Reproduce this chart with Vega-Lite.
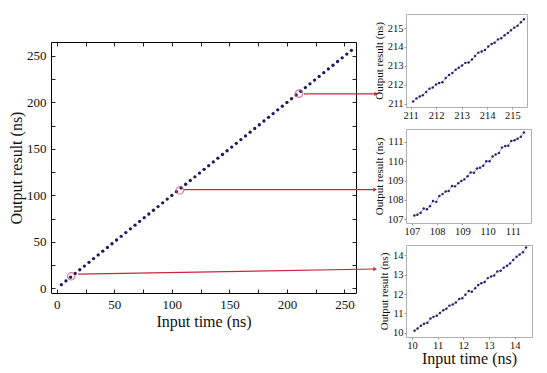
{
  "$schema": "https://vega.github.io/schema/vega-lite/v6.json",
  "background": "white",
  "padding": {"left": 8, "top": 13, "right": 5, "bottom": 5},
  "config": {
    "font": "Liberation Serif",
    "view": {"stroke": "black", "strokeWidth": 1},
    "axis": {"labelFont": "Liberation Serif", "titleFont": "Liberation Serif", "titleFontWeight": "normal", "labelColor": "#111", "titleColor": "#111", "grid": false}
  },
  "datasets": {
    "main": [
      {"x":4,"y":4},{"x":8,"y":8},{"x":12,"y":12},{"x":16,"y":16},{"x":20,"y":20},{"x":24,"y":24},{"x":28,"y":28},{"x":32,"y":32},
      {"x":36,"y":36},{"x":40,"y":40},{"x":44,"y":44},{"x":48,"y":48},{"x":52,"y":52},{"x":56,"y":56},{"x":60,"y":60},{"x":64,"y":64},
      {"x":68,"y":68},{"x":72,"y":72},{"x":76,"y":76},{"x":80,"y":80},{"x":84,"y":84},{"x":88,"y":88},{"x":92,"y":92},{"x":96,"y":96},
      {"x":100,"y":100},{"x":104,"y":104},{"x":108,"y":108},{"x":112,"y":112},{"x":116,"y":116},{"x":120,"y":120},{"x":124,"y":124},{"x":128,"y":128},
      {"x":132,"y":132},{"x":136,"y":136},{"x":140,"y":140},{"x":144,"y":144},{"x":148,"y":148},{"x":152,"y":152},{"x":156,"y":156},{"x":160,"y":160},
      {"x":164,"y":164},{"x":168,"y":168},{"x":172,"y":172},{"x":176,"y":176},{"x":180,"y":180},{"x":184,"y":184},{"x":188,"y":188},{"x":192,"y":192},
      {"x":196,"y":196},{"x":200,"y":200},{"x":204,"y":204},{"x":208,"y":208},{"x":212,"y":212},{"x":216,"y":216},{"x":220,"y":220},{"x":224,"y":224},
      {"x":228,"y":228},{"x":232,"y":232},{"x":236,"y":236},{"x":240,"y":240},{"x":244,"y":244},{"x":248,"y":248},{"x":252,"y":252},{"x":256,"y":256}
    ],
    "marks": [
      {"x":12.5,"y":13},{"x":107,"y":105.5},{"x":210.5,"y":209.5}
    ],
    "arrows": [
      {"x":214.8,"y":209.1,"x2":277.5,"y2":209.1},
      {"x":110.6,"y":106.3,"x2":276.6,"y2":106.3},
      {"x":18.5,"y":15.4,"x2":276.6,"y2":20.8}
    ],
    "z1": [
      {"x":211.10,"y":211.12},{"x":211.23,"y":211.28},{"x":211.36,"y":211.38},{"x":211.48,"y":211.45},{"x":211.61,"y":211.62},{"x":211.74,"y":211.80},{"x":211.87,"y":211.86},
      {"x":212.00,"y":212.02},{"x":212.12,"y":212.10},{"x":212.25,"y":212.14},{"x":212.38,"y":212.36},{"x":212.51,"y":212.52},{"x":212.64,"y":212.62},{"x":212.77,"y":212.80},
      {"x":212.89,"y":212.90},{"x":213.02,"y":213.02},{"x":213.15,"y":213.16},{"x":213.28,"y":213.18},{"x":213.41,"y":213.34},{"x":213.53,"y":213.52},{"x":213.66,"y":213.70},
      {"x":213.79,"y":213.76},{"x":213.92,"y":213.84},{"x":214.05,"y":214.02},{"x":214.18,"y":214.16},{"x":214.30,"y":214.22},{"x":214.43,"y":214.40},{"x":214.56,"y":214.46},
      {"x":214.69,"y":214.62},{"x":214.82,"y":214.74},{"x":214.94,"y":214.88},{"x":215.07,"y":215.02},{"x":215.20,"y":215.12},{"x":215.33,"y":215.30},{"x":215.45,"y":215.46}
    ],
    "z2": [
      {"x":107.10,"y":107.20},{"x":107.22,"y":107.24},{"x":107.35,"y":107.34},{"x":107.47,"y":107.56},{"x":107.60,"y":107.52},{"x":107.72,"y":107.68},
      {"x":107.84,"y":107.94},{"x":107.97,"y":107.90},{"x":108.09,"y":108.20},{"x":108.22,"y":108.30},{"x":108.34,"y":108.44},{"x":108.46,"y":108.46},
      {"x":108.59,"y":108.72},{"x":108.71,"y":108.70},{"x":108.84,"y":108.86},{"x":108.96,"y":108.98},{"x":109.08,"y":109.06},{"x":109.21,"y":109.22},
      {"x":109.33,"y":109.42},{"x":109.46,"y":109.40},{"x":109.58,"y":109.62},{"x":109.70,"y":109.66},{"x":109.83,"y":109.76},{"x":109.95,"y":110.00},
      {"x":110.08,"y":110.00},{"x":110.20,"y":110.24},{"x":110.32,"y":110.34},{"x":110.45,"y":110.42},{"x":110.57,"y":110.70},{"x":110.70,"y":110.78},
      {"x":110.82,"y":110.80},{"x":110.94,"y":111.04},{"x":111.07,"y":111.08},{"x":111.19,"y":111.16},{"x":111.32,"y":111.26},{"x":111.44,"y":111.48}
    ],
    "z3": [
      {"x":10.10,"y":10.10},{"x":10.22,"y":10.22},{"x":10.35,"y":10.36},{"x":10.47,"y":10.46},{"x":10.60,"y":10.52},{"x":10.72,"y":10.74},
      {"x":10.84,"y":10.82},{"x":10.97,"y":10.88},{"x":11.09,"y":11.02},{"x":11.22,"y":11.16},{"x":11.34,"y":11.24},{"x":11.46,"y":11.40},
      {"x":11.59,"y":11.46},{"x":11.71,"y":11.56},{"x":11.84,"y":11.74},{"x":11.96,"y":11.78},{"x":12.08,"y":11.96},{"x":12.21,"y":12.16},
      {"x":12.33,"y":12.12},{"x":12.46,"y":12.30},{"x":12.58,"y":12.46},{"x":12.70,"y":12.56},{"x":12.83,"y":12.62},{"x":12.95,"y":12.82},
      {"x":13.08,"y":12.90},{"x":13.20,"y":12.96},{"x":13.32,"y":13.16},{"x":13.45,"y":13.20},{"x":13.57,"y":13.36},{"x":13.70,"y":13.46},
      {"x":13.82,"y":13.58},{"x":13.94,"y":13.76},{"x":14.07,"y":13.92},{"x":14.19,"y":14.04},{"x":14.32,"y":14.16},{"x":14.44,"y":14.40}
    ]
  },
  "bounds": "full",
  "spacing": -7,
  "hconcat": [
    {
      "bounds": "flush",
      "spacing": 18,
      "vconcat": [
        {
          "width": 305, "height": 10,
          "view": {"stroke": null},
          "data": {"values": []},
          "mark": {"type": "point"},
          "encoding": {}
        },
        {
          "width": 305, "height": 251,
          "layer": [
            {
              "data": {"name": "main"},
              "mark": {"type": "point", "filled": true, "size": 11, "color": "#1c1a5a", "opacity": 1},
              "encoding": {
                "x": {"field": "x", "type": "quantitative", "scale": {"domain": [-5, 260], "nice": false, "zero": false},
                  "axis": {"orient": "bottom", "title": "Input time (ns)", "values": [0,25,50,75,100,125,150,175,200,225,250],
                    "labelExpr": "datum.value % 50 === 0 ? datum.label : ''", "tickSize": -4, "tickColor": "#222", "labelPadding": 9,
                    "labelFontSize": 13, "titleFontSize": 16, "titlePadding": 2, "domain": false}},
                "y": {"field": "y", "type": "quantitative", "scale": {"domain": [-5, 265], "nice": false, "zero": false},
                  "axis": {"orient": "left", "title": "Output result (ns)", "values": [0,25,50,75,100,125,150,175,200,225,250],
                    "labelExpr": "datum.value % 50 === 0 ? datum.label : ''", "tickSize": -4, "tickColor": "#222", "labelPadding": 9,
                    "labelFontSize": 13, "titleFontSize": 16, "titlePadding": 2, "domain": false}}
              }
            },
            {
              "data": {"name": "marks"},
              "mark": {"type": "point", "shape": "circle", "filled": false, "size": 55, "stroke": "#d2487c", "strokeWidth": 1.2},
              "encoding": {
                "x": {"field": "x", "type": "quantitative", "scale": {"domain": [-5, 260], "nice": false, "zero": false},
                  "axis": {"orient": "top", "title": null, "labels": false, "values": [0,25,50,75,100,125,150,175,200,225,250], "tickSize": -4, "tickColor": "#222", "domain": false}},
                "y": {"field": "y", "type": "quantitative", "scale": {"domain": [-5, 265], "nice": false, "zero": false},
                  "axis": {"orient": "right", "title": null, "labels": false, "values": [0,25,50,75,100,125,150,175,200,225,250], "tickSize": -4, "tickColor": "#222", "domain": false}}
              }
            },
            {
              "data": {"name": "arrows"},
              "mark": {"type": "rule", "color": "#c8283c", "strokeWidth": 1.2, "clip": false},
              "encoding": {
                "x": {"field": "x", "type": "quantitative", "scale": {"domain": [-5, 260], "nice": false, "zero": false}, "axis": null},
                "y": {"field": "y", "type": "quantitative", "scale": {"domain": [-5, 265], "nice": false, "zero": false}, "axis": null},
                "x2": {"field": "x2"},
                "y2": {"field": "y2"}
              }
            },
            {
              "data": {"name": "arrows"},
              "mark": {"type": "point", "shape": "triangle-right", "filled": true, "size": 18, "color": "#c8283c", "opacity": 1, "clip": false},
              "encoding": {
                "x": {"field": "x2", "type": "quantitative", "scale": {"domain": [-5, 260], "nice": false, "zero": false}, "axis": null},
                "y": {"field": "y2", "type": "quantitative", "scale": {"domain": [-5, 265], "nice": false, "zero": false}, "axis": null}
              }
            }
          ]
        }
      ]
    },
    {
      "bounds": "flush",
      "spacing": 22,
      "vconcat": [
        {
          "width": 121, "height": 93,
          "view": {"stroke": "#b0b0b0"},
          "data": {"name": "z1"},
          "layer": [
            {"mark": {"type": "line", "color": "#7070b0", "strokeWidth": 0.6}, "encoding": {}},
            {"mark": {"type": "point", "filled": true, "size": 6, "color": "#25236e", "opacity": 1}, "encoding": {}}
          ],
          "encoding": {
            "x": {"field": "x", "type": "quantitative", "scale": {"domain": [210.82, 215.57], "nice": false, "zero": false},
              "axis": {"title": null, "values": [211,212,213,214,215], "labelFontSize": 10.5, "tickSize": 2, "tickColor": "#999", "labelPadding": 1, "domain": false}},
            "y": {"field": "y", "type": "quantitative", "scale": {"domain": [210.83, 215.74], "nice": false, "zero": false},
              "axis": {"title": "Output result (ns)", "values": [211,212,213,214,215], "labelFontSize": 10.5, "titleFontSize": 11, "tickSize": 2, "tickColor": "#999", "labelPadding": 1, "titlePadding": 3, "domain": false}}
          }
        },
        {
          "width": 125, "height": 94,
          "view": {"stroke": "#b0b0b0"},
          "data": {"name": "z2"},
          "layer": [
            {"mark": {"type": "line", "color": "#7070b0", "strokeWidth": 0.6}, "encoding": {}},
            {"mark": {"type": "point", "filled": true, "size": 6, "color": "#25236e", "opacity": 1}, "encoding": {}}
          ],
          "encoding": {
            "x": {"field": "x", "type": "quantitative", "scale": {"domain": [106.77, 111.72], "nice": false, "zero": false},
              "axis": {"title": null, "values": [107,108,109,110,111], "labelFontSize": 10.5, "tickSize": 2, "tickColor": "#999", "labelPadding": 1, "domain": false}},
            "y": {"field": "y", "type": "quantitative", "scale": {"domain": [106.81, 111.66], "nice": false, "zero": false},
              "axis": {"title": "Output result (ns)", "values": [107,108,109,110,111], "labelFontSize": 10.5, "titleFontSize": 11, "tickSize": 2, "tickColor": "#999", "labelPadding": 1, "titlePadding": 3, "domain": false}}
          }
        },
        {
          "width": 126, "height": 92,
          "view": {"stroke": "#b0b0b0"},
          "data": {"name": "z3"},
          "layer": [
            {"mark": {"type": "line", "color": "#7070b0", "strokeWidth": 0.6}, "encoding": {}},
            {"mark": {"type": "point", "filled": true, "size": 6, "color": "#25236e", "opacity": 1}, "encoding": {}}
          ],
          "encoding": {
            "x": {"field": "x", "type": "quantitative", "scale": {"domain": [9.77, 14.67], "nice": false, "zero": false},
              "axis": {"title": "Input time (ns)", "values": [10,11,12,13,14], "labelFontSize": 10.5, "titleFontSize": 16, "tickSize": 2, "tickColor": "#999", "labelPadding": 1, "titlePadding": 0, "domain": false}},
            "y": {"field": "y", "type": "quantitative", "scale": {"domain": [9.78, 14.53], "nice": false, "zero": false},
              "axis": {"title": "Output result (ns)", "values": [10,11,12,13,14], "labelFontSize": 10.5, "titleFontSize": 11, "tickSize": 2, "tickColor": "#999", "labelPadding": 1, "titlePadding": 3, "domain": false}}
          }
        }
      ]
    }
  ]
}
